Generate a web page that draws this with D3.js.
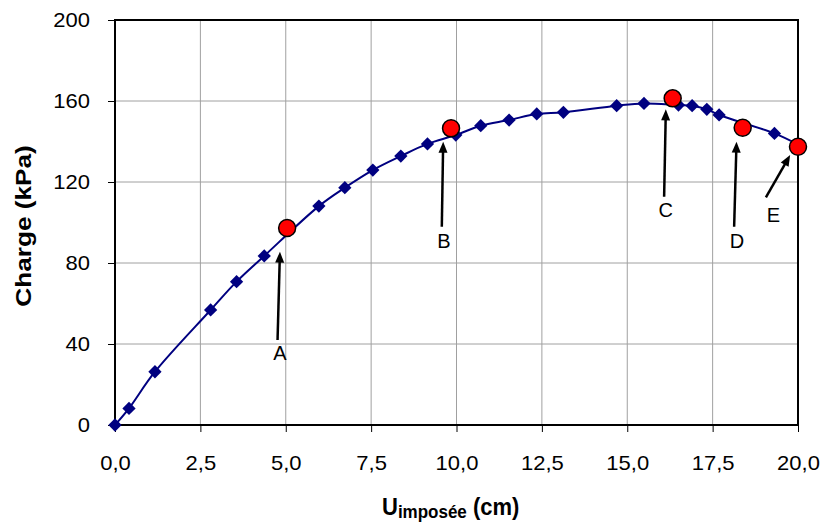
<!DOCTYPE html>
<html>
<head>
<meta charset="utf-8">
<title>Charge - U imposée</title>
<script src="https://cdn.jsdelivr.net/npm/d3@7"></script>
<style>
	body { margin: 0; background: #fff; }
	text { font-family: Arial, "Liberation Sans", sans-serif; fill: #000; }
</style>
</head>
<body>

<svg width="825" height="526" class="chart"></svg>

<script>

	// courbe charge / deplacement impose
	var u_cm = [0, 0.41, 1.17, 2.80, 3.56, 4.37, 5.97, 6.73, 7.55, 8.37, 9.15, 9.98, 10.71,
		11.54, 12.35, 13.13, 14.69, 15.49, 16.50, 16.90, 17.33, 17.69, 19.31, 20.0]
	var charge_kPa = [0, 8.2, 26.3, 56.8, 70.8, 83.5, 108.1, 117.2, 125.9, 132.8, 138.8, 143.2, 147.8,
		150.6, 153.6, 154.4, 157.7, 158.8, 158.0, 157.7, 155.9, 153.1, 144.0, 138.5]

	// points remarquables A..E
	var pt_labels = ['A', 'B', 'C', 'D', 'E']
	var pt_u = [5.04, 9.84, 16.33, 18.38, 20.0]
	var pt_charge = [97.3, 146.5, 161.3, 146.8, 137.4]

	// fleches (queue -> pointe) et position des lettres
	var tail_u = [4.76, 9.57, 16.08, 18.13, 19.06]
	var tail_charge = [42.0, 97.9, 112.7, 97.9, 112.4]
	var tip_u = [4.83, 9.61, 16.13, 18.20, 19.77]
	var tip_charge = [85.6, 139.9, 155.9, 139.9, 133.3]
	var label_u = [4.83, 9.63, 16.13, 18.21, 19.28]
	var label_charge = [32.1, 87.6, 102.6, 87.3, 100.4]

	var x_ticks = [0, 2.5, 5, 7.5, 10, 12.5, 15, 17.5, 20]
	var y_ticks = [0, 40, 80, 120, 160, 200]

	var margin = {'top': 20, 'right': 27, 'bottom': 101, 'left': 115}
	var svg = d3.select('.chart')
	var width = +svg.attr('width') - margin.left - margin.right
	var height = +svg.attr('height') - margin.top - margin.bottom

	var x = d3.scaleLinear().domain([0, 20]).range([0, width])
	var y = d3.scaleLinear().domain([0, 200]).range([height, 0])

	var fr = d3.formatLocale({decimal: ',', thousands: ' ', grouping: [3], currency: ['', ' €']})
	var fmt1 = fr.format('.1f')

	var g = svg.append('g')
		.attr('transform', 'translate(' + margin.left + ',' + margin.top + ')')

	// grille
	g.append('g').selectAll('line')
		.data(x_ticks).enter().append('line')
		.attr('x1', function(d) {return x(d)}).attr('x2', function(d) {return x(d)})
		.attr('y1', 0).attr('y2', height)
		.attr('stroke', '#a0a0a0').attr('stroke-width', 1)

	g.append('g').selectAll('line')
		.data(y_ticks).enter().append('line')
		.attr('x1', 0).attr('x2', width)
		.attr('y1', function(d) {return y(d)}).attr('y2', function(d) {return y(d)})
		.attr('stroke', '#a0a0a0').attr('stroke-width', 1)

	// axes
	var sx = 1.1
	var yAxis = g.append('g')
		.call(d3.axisLeft(y).tickValues(y_ticks).tickSize(7).tickSizeOuter(0).tickFormat(d3.format('d')))
	yAxis.select('.domain').remove()
	yAxis.selectAll('text')
		.attr('font-size', 20)
		.attr('x', -25 / sx)
		.attr('transform', 'scale(' + sx + ',1)')

	var xAxis = g.append('g')
		.attr('transform', 'translate(0,' + height + ')')
		.call(d3.axisBottom(x).tickValues(x_ticks).tickSize(7).tickSizeOuter(0).tickFormat(fmt1))
	xAxis.select('.domain').remove()
	xAxis.selectAll('text')
		.attr('font-size', 20)
		.attr('y', 45).attr('dy', 0)
		.attr('transform', 'scale(' + sx + ',1)')

	svg.selectAll('.tick line').attr('stroke', '#000')

	// cadre
	g.append('rect')
		.attr('x', 0).attr('y', 0)
		.attr('width', width).attr('height', height)
		.attr('fill', 'none').attr('stroke', '#000').attr('stroke-width', 2)

	// courbe
	var serie = u_cm.map(function(d, i) {return {u: d, c: charge_kPa[i]}})

	var line = d3.line()
		.x(function(d) {return x(d.u)})
		.y(function(d) {return y(d.c)})
		.curve(d3.curveCatmullRom.alpha(0.5))

	g.append('path')
		.attr('d', line(serie))
		.attr('fill', 'none')
		.attr('stroke', '#000080')
		.attr('stroke-width', 2)

	g.append('g').selectAll('path')
		.data(serie).enter().append('path')
		.attr('d', d3.symbol().type(d3.symbolSquare).size(88))
		.attr('transform', function(d) {return 'translate(' + x(d.u) + ',' + y(d.c) + ') rotate(45)'})
		.attr('fill', '#000080')

	// fleches
	var fleches = pt_labels.map(function(d, i) {
		return {lab: d, x0: x(tail_u[i]), y0: y(tail_charge[i]), x1: x(tip_u[i]), y1: y(tip_charge[i]),
			lx: x(label_u[i]), ly: y(label_charge[i])}
	})

	var ga = g.append('g')
	fleches.forEach(function(f) {
		var dx = f.x1 - f.x0, dy = f.y1 - f.y0
		var len = Math.sqrt(dx * dx + dy * dy)
		var ux = dx / len, uy = dy / len
		var hl = 11, hw = 4.5
		var bx = f.x1 - ux * hl, by = f.y1 - uy * hl
		ga.append('line')
			.attr('x1', f.x0).attr('y1', f.y0)
			.attr('x2', bx + ux * 2).attr('y2', by + uy * 2)
			.attr('stroke', '#000').attr('stroke-width', 2.5)
		ga.append('path')
			.attr('d', 'M' + f.x1 + ',' + f.y1 +
				'L' + (bx - uy * hw) + ',' + (by + ux * hw) +
				'L' + (bx + uy * hw) + ',' + (by - ux * hw) + 'Z')
			.attr('fill', '#000')
		ga.append('text')
			.attr('x', f.lx).attr('y', f.ly)
			.attr('text-anchor', 'middle')
			.attr('font-size', 20)
			.text(f.lab)
	})

	// points A..E
	g.append('g').selectAll('circle')
		.data(pt_u).enter().append('circle')
		.attr('cx', function(d) {return x(d)})
		.attr('cy', function(d, i) {return y(pt_charge[i])})
		.attr('r', 8.5)
		.attr('fill', '#ff0000')
		.attr('stroke', '#000')
		.attr('stroke-width', 1.5)

	// titres des axes
	svg.append('text')
		.attr('transform', 'translate(31,226) rotate(-90) scale(1.19,1)')
		.attr('text-anchor', 'middle')
		.attr('font-size', 22)
		.attr('font-weight', 'bold')
		.text('Charge (kPa)')

	var tx = svg.append('text')
		.attr('transform', 'translate(382,515) scale(1,1.1)')
		.attr('font-size', 22)
		.attr('font-weight', 'bold')
	tx.append('tspan').text('U')
	tx.append('tspan').attr('font-size', 17).attr('dy', 3).text('imposée')
	tx.append('tspan').attr('dy', -3).text(' (cm)')

</script>

</body>
</html>
